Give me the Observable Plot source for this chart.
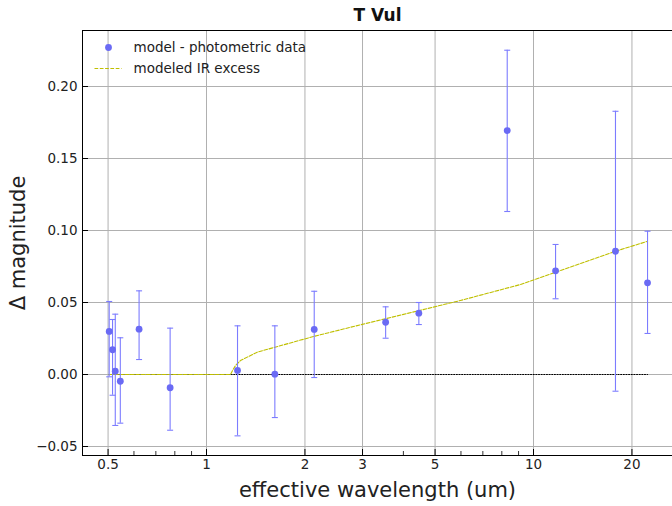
<!DOCTYPE html>
<html><head><meta charset="utf-8">
<script src="https://cdn.jsdelivr.net/npm/d3@7"></script>
<script src="https://cdn.jsdelivr.net/npm/@observablehq/plot@0.6"></script>
<style>html,body{margin:0;padding:0;background:#fff;overflow:hidden} svg{display:block}</style>
</head><body><div id="chart"></div>
<script>
// Photometric points: effective wavelength (um), model - data (mag), error bar limits
const lambda  = [0.504, 0.516, 0.526, 0.545, 0.622, 0.774, 1.244, 1.618, 2.135, 3.53, 4.46, 8.31, 11.68, 17.81, 22.32];
const delta   = [0.0299, 0.0172, 0.0023, -0.0047, 0.0315, -0.0092, 0.0028, 0.0002, 0.0313, 0.0363, 0.0426, 0.1694, 0.0720, 0.0856, 0.0637];
const errLow  = [-0.0016, -0.0144, -0.0354, -0.0338, 0.0104, -0.0387, -0.0426, -0.0299, -0.0021, 0.0252, 0.0347, 0.1132, 0.0526, -0.0116, 0.0285];
const errHigh = [0.0507, 0.0382, 0.0419, 0.0255, 0.0581, 0.0322, 0.0338, 0.0338, 0.0578, 0.0470, 0.0500, 0.2252, 0.0903, 0.1828, 0.0995];

// Modeled IR excess curve
const modelLambda = [0.504, 1.184, 1.201, 1.227, 1.270, 1.429, 1.720, 2.124, 2.756, 5.98, 9.125, 17.81, 22.32];
const modelDelta  = [0, 0, 0.0028, 0.0063, 0.0097, 0.0155, 0.0206, 0.0264, 0.0328, 0.0514, 0.0625, 0.0856, 0.0925];

// Zero reference line
const zeroLambda = [0.504, 22.32];
const zeroDelta  = [0, 0];

const xTicks = [0.5, 1, 2, 3, 5, 10, 20];
const xMinorTicks = [0.6, 0.7, 0.8, 0.9, 4, 6, 7, 8, 9];
const yTicks = [-0.05, 0, 0.05, 0.10, 0.15, 0.20];
const xDomain = [0.4176, 26.61];
const yDomain = [-0.05625, 0.2389];

const seriesLabels = ["model - photometric data", "modeled IR excess"];
const title = "T Vul";
const xLabel = "effective wavelength (um)";
const yLabel = "\u0394 magnitude";

const points = lambda.map((l, i) => ({l, d: delta[i], lo: errLow[i], hi: errHigh[i]}));
const model = modelLambda.map((l, i) => ({l, d: modelDelta[i]}));
const zero = zeroLambda.map((l, i) => ({l, d: zeroDelta[i]}));

const hline = {draw(ctx, size) { const w = Math.sqrt(size / Math.PI); ctx.moveTo(-w, 0); ctx.lineTo(w, 0); }};

const W = 672, H = 506, mL = 82, mR = 0, mT = 30, mB = 51;
const fw = W - mL - mR, fh = H - mT - mB;
const ptC = "#6a6af4", barC = "#7c7cff", yellow = "#bfbf00", gridC = "#b0b0b0";
const font = "DejaVu Sans, sans-serif";

const chart = Plot.plot({
  width: W, height: H,
  marginLeft: mL, marginRight: mR, marginTop: mT, marginBottom: mB,
  style: {fontFamily: font, background: "#fff", overflow: "visible"},
  x: {type: "log", domain: xDomain},
  y: {domain: yDomain},
  marks: [
    Plot.ruleX(xTicks, {x: d => d, stroke: gridC, strokeWidth: 1}),
    Plot.ruleY(yTicks, {y: d => d, stroke: gridC, strokeWidth: 1}),
    Plot.line(zero, {x: "l", y: "d", stroke: "black", strokeWidth: 1, strokeDasharray: "1,1.65"}),
    Plot.line(model, {x: "l", y: "d", stroke: yellow, strokeWidth: 1.1, strokeDasharray: "3.7,1.6", curve: "linear"}),
    Plot.ruleX(points, {x: "l", y1: "lo", y2: "hi", stroke: barC, strokeWidth: 1.1}),
    Plot.dot(points, {x: "l", y: "lo", symbol: hline, r: 3, fill: "none", stroke: barC, strokeWidth: 1.1}),
    Plot.dot(points, {x: "l", y: "hi", symbol: hline, r: 3, fill: "none", stroke: barC, strokeWidth: 1.1}),
    Plot.dot(points, {x: "l", y: "d", r: 3.4, fill: ptC, stroke: "none"}),
    // legend
    Plot.dot([0], {frameAnchor: "top-left", dx: 26, dy: 17, r: 3.4, fill: ptC, stroke: "none"}),
    Plot.dot([0], {frameAnchor: "top-left", dx: 25.5, dy: 38, symbol: hline, r: 13.5, fill: "none", stroke: yellow, strokeWidth: 1.1, strokeDasharray: "3.7,1.6"}),
    Plot.text([seriesLabels[0]], {text: d => d, frameAnchor: "top-left", dx: 51, dy: 17, textAnchor: "start", lineAnchor: "middle", fontSize: 13.5, fill: "#222"}),
    Plot.text([seriesLabels[1]], {text: d => d, frameAnchor: "top-left", dx: 51, dy: 38, textAnchor: "start", lineAnchor: "middle", fontSize: 13.5, fill: "#222"}),
    // frame (left, bottom, top)
    Plot.frame({anchor: "left", stroke: "black", strokeWidth: 1}),
    Plot.frame({anchor: "bottom", stroke: "black", strokeWidth: 1}),
    Plot.frame({anchor: "top", stroke: "black", strokeWidth: 1}),
    // inward ticks
    Plot.tickX(xTicks, {x: d => d, insetTop: fh - 6, stroke: "black", strokeWidth: 1}),
    Plot.tickX(xMinorTicks, {x: d => d, insetTop: fh - 4, stroke: "black", strokeWidth: 0.8}),
    Plot.tickY(yTicks, {y: d => d, insetRight: fw - 6, stroke: "black", strokeWidth: 1}),
    // axes labels
    Plot.axisX({ticks: xTicks, tickSize: 0, tickPadding: 4, tickFormat: d => String(d), label: null, fontSize: 13.5, fill: "#222"}),
    Plot.axisY({ticks: yTicks, tickSize: 0, tickPadding: 5, tickFormat: d3.format(".2f"), label: null, fontSize: 13.5, fill: "#222"}),
    Plot.text([title], {text: d => d, frameAnchor: "top", dy: -15, lineAnchor: "middle", fontWeight: "bold", fontSize: 17, fill: "#111"}),
    Plot.text([xLabel], {text: d => d, frameAnchor: "bottom", dy: 35, lineAnchor: "middle", textAnchor: "middle", fontSize: 21, fill: "#222"}),
    Plot.text([yLabel], {text: d => d, frameAnchor: "left", dx: -64, rotate: -90, lineAnchor: "middle", textAnchor: "middle", fontSize: 21, fill: "#222"})
  ]
});
document.getElementById("chart").appendChild(chart);
</script>
</body></html>
